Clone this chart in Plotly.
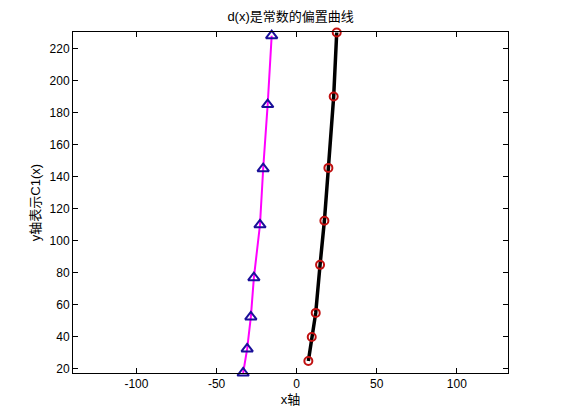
import plotly.graph_objects as go

# Data
black_x = [7.3, 9.4, 11.9, 14.6, 17.3, 19.8, 23.1, 25.0]
black_y = [25, 40, 55, 85, 112.5, 145.5, 190, 230]
mag_x = [-33.4, -30.9, -28.6, -26.7, -22.9, -20.9, -18.1, -15.6]
mag_y = [17.5, 32.5, 52.5, 77, 110, 145, 185, 228]

x_ticks = [-100, -50, 0, 50, 100]
x_tick_labels = ["-100", "-50", "0", "50", "100"]
y_ticks = [20, 40, 60, 80, 100, 120, 140, 160, 180, 200, 220]

title_text = "d(x)是常数的偏置曲线"
xlabel = "x轴"
ylabel = "y轴表示C1(x)"

FONT = "Liberation Sans, Arial, Noto Sans CJK SC, sans-serif"

fig = go.Figure()
fig.add_trace(go.Scatter(
    x=mag_x, y=mag_y, mode="lines+markers",
    line=dict(color="#ff00ff", width=2),
    marker=dict(symbol="triangle-up-open", size=10,
                color="#1a0f99", line=dict(width=2, color="#1a0f99")),
    cliponaxis=False, showlegend=False))
fig.add_trace(go.Scatter(
    x=black_x, y=black_y, mode="lines+markers",
    line=dict(color="black", width=3.5),
    marker=dict(symbol="circle-open", size=8,
                color="#c01010", line=dict(width=2, color="#c01010")),
    cliponaxis=False, showlegend=False))

axis_common = dict(showline=True, linecolor="black", linewidth=1, mirror="ticks",
                   ticks="inside", ticklen=5, tickcolor="black", showgrid=False,
                   zeroline=False, automargin=False,
                   tickfont=dict(family=FONT, size=12, color="black"))

fig.update_layout(
    width=561, height=420,
    margin=dict(l=73, r=53, t=32, b=47),
    paper_bgcolor="white", plot_bgcolor="white",
    title=dict(text=title_text, x=0.518, xanchor="center", y=0.96, yanchor="middle",
               font=dict(family=FONT, size=13, color="black")),
    xaxis=dict(range=[-139.6, 131.9], tickvals=x_ticks, ticktext=x_tick_labels,
               title=dict(text=xlabel, font=dict(family=FONT, size=13, color="black"),
                          standoff=4),
               **axis_common),
    yaxis=dict(range=[17.5, 230.3], tickvals=y_ticks,
               title=dict(text=ylabel, font=dict(family=FONT, size=13, color="black"),
                          standoff=6),
               **axis_common),
)

fig.write_html("out.html", config={"displayModeBar": False},
               post_script="document.body.style.margin='0';")
